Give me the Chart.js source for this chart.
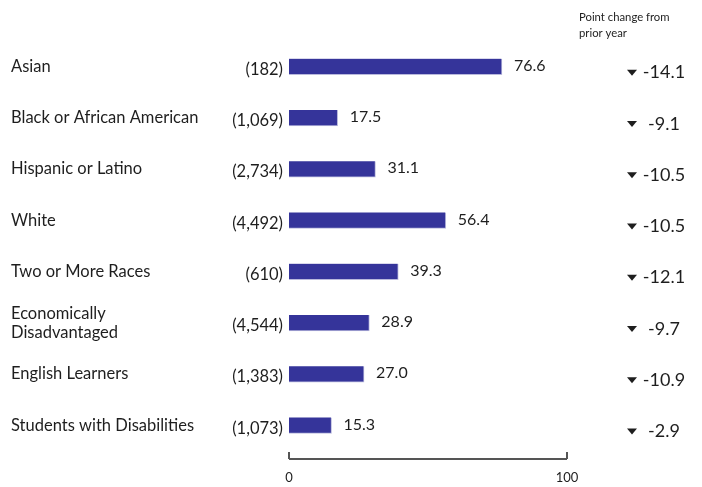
<!DOCTYPE html>
<html>
<head>
<meta charset="utf-8">
<script src="https://cdn.jsdelivr.net/npm/chart.js@4"></script>
<style>
  html, body { margin: 0; padding: 0; background: #fff; }
  #wrap { width: 702px; height: 487px; position: relative; }
</style>
</head>
<body>
<div id="wrap"><canvas id="chart"></canvas></div>
<script>
// Dados do gráfico
const categories = ['Asian', 'Black or African American', 'Hispanic or Latino', 'White',
  'Two or More Races', ['Economically', 'Disadvantaged'], 'English Learners', 'Students with Disabilities'];
const counts = ['(182)', '(1,069)', '(2,734)', '(4,492)', '(610)', '(4,544)', '(1,383)', '(1,073)'];
const rates = [76.6, 17.5, 31.1, 56.4, 39.3, 28.9, 27.0, 15.3];
const changes = [-14.1, -9.1, -10.5, -10.5, -12.1, -9.7, -10.9, -2.9];
const xTicks = [0, 100];

const FONT = 'Lato, "Noto Sans", sans-serif';
const TEXT = '#1e1e1e';

// Rótulos, coluna da direita e eixo inferior
const annotations = {
  id: 'annotations',
  afterDatasetsDraw(chart) {
    const ctx = chart.ctx;
    const x = chart.scales.x;
    const y = chart.scales.y;
    ctx.save();
    ctx.fillStyle = TEXT;
    ctx.textBaseline = 'middle';

    categories.forEach((cat, i) => {
      const cy = y.getPixelForValue(i);
      ctx.font = '16.5px ' + FONT;
      ctx.textAlign = 'left';
      if (Array.isArray(cat)) {
        ctx.fillText(cat[0], 11, cy - 9);
        ctx.fillText(cat[1], 11, cy + 10);
      } else {
        ctx.fillText(cat, 11, cy);
      }
      ctx.textAlign = 'right';
      ctx.fillText(counts[i], 283, cy + 3);

      ctx.font = '16px ' + FONT;
      ctx.textAlign = 'left';
      ctx.fillText(rates[i].toFixed(1), x.getPixelForValue(rates[i]) + 12, cy - 1);

      // seta para baixo + variação
      ctx.beginPath();
      ctx.moveTo(627, cy + 3);
      ctx.lineTo(637, cy + 3);
      ctx.lineTo(632, cy + 9);
      ctx.closePath();
      ctx.fill();
      ctx.font = '18px ' + FONT;
      ctx.textAlign = 'center';
      ctx.fillText(changes[i].toFixed(1), 664, cy + 6);
    });

    ctx.font = '11.3px ' + FONT;
    ctx.textAlign = 'left';
    ctx.fillText('Point change from', 579, 17);
    ctx.fillText('prior year', 579, 33);

    // eixo x
    const ay = 459;
    const x0 = x.getPixelForValue(xTicks[0]);
    const x1 = x.getPixelForValue(xTicks[xTicks.length - 1]);
    ctx.strokeStyle = '#555';
    ctx.lineWidth = 2;
    ctx.beginPath();
    ctx.moveTo(x0, ay);
    ctx.lineTo(x1, ay);
    xTicks.forEach(t => {
      const px = x.getPixelForValue(t);
      ctx.moveTo(px, ay);
      ctx.lineTo(px, ay - 7);
    });
    ctx.stroke();
    ctx.font = '13px ' + FONT;
    ctx.textAlign = 'center';
    xTicks.forEach(t => ctx.fillText(String(t), x.getPixelForValue(t), 478));
    ctx.restore();
  }
};

new Chart(document.getElementById('chart'), {
  type: 'bar',
  data: {
    labels: categories,
    datasets: [{
      data: rates,
      backgroundColor: '#35349a',
      borderColor: '#b9b9dc',
      borderWidth: { right: 1, bottom: 1 },
      borderSkipped: 'left',
      barThickness: 16
    }]
  },
  options: {
    indexAxis: 'y',
    responsive: true,
    maintainAspectRatio: false,
    animation: false,
    layout: { padding: { left: 289, right: 135, top: 41, bottom: 36 } },
    plugins: { legend: { display: false }, tooltip: { enabled: false } },
    scales: {
      x: { min: 0, max: 100, display: false },
      y: { display: false }
    }
  },
  plugins: [annotations]
});
</script>
</body>
</html>
